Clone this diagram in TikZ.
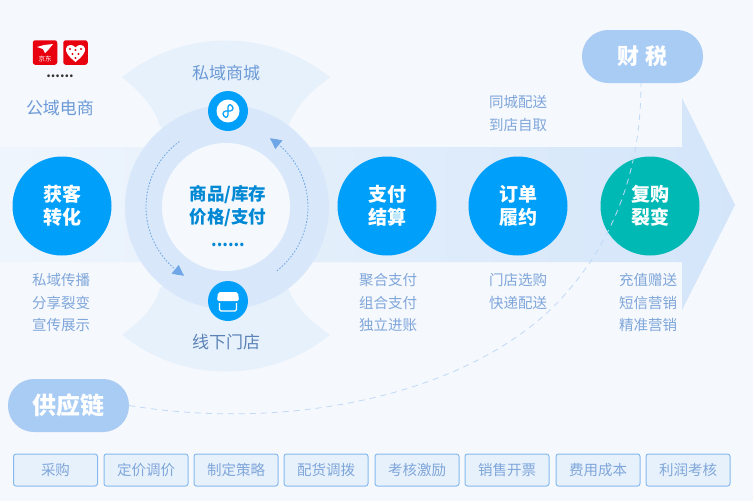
\documentclass[tikz,border=0pt]{standalone}
\usepackage{fontspec}
\setmainfont{Noto Sans CJK SC}
\usetikzlibrary{arrows.meta,bending}
\definecolor{pagebg}{HTML}{F5F8FD}
\definecolor{wedgebg}{HTML}{E7F1FC}
\definecolor{ringbg}{HTML}{D8E8FA}
\definecolor{bluedot}{HTML}{00A0FA}
\definecolor{tealdot}{HTML}{00B9B5}
\definecolor{pillbg}{HTML}{A9CCF5}
\definecolor{labeltxt}{HTML}{7FA6DA}
\definecolor{titletxt}{HTML}{6C9AD6}
\definecolor{tagline}{HTML}{86BAEE}
\definecolor{loopline}{HTML}{6EA6E6}
\definecolor{logored}{HTML}{E8000F}
\tikzset{
	stage/.style={circle,minimum size=99pt,inner sep=0pt,fill=bluedot,text=white,font=\bfseries\fontsize{19}{23}\selectfont,align=center},
	pill/.style={rounded corners=26pt,minimum width=121pt,minimum height=53pt,inner sep=0pt,fill=pillbg,text=white,font=\bfseries\fontsize{22}{26}\selectfont},
	note/.style={text=labeltxt,inner sep=0pt,font=\fontsize{14.5}{16}\selectfont},
	title/.style={text=titletxt,inner sep=0pt,font=\fontsize{17}{18}\selectfont},
	tag/.style={draw=tagline,fill=wedgebg,rounded corners=2.5pt,line width=1pt,minimum width=84pt,minimum height=32pt,inner sep=0pt,text=labeltxt,font=\fontsize{14.5}{16}\selectfont},
	icon/.style={circle,minimum size=40pt,inner sep=0pt,fill=bluedot},
	logo/.style={rounded corners=2.5pt,minimum size=24.5pt,inner sep=0pt,fill=logored},
	loopline/.style={draw=loopline,dash pattern=on 1.6pt off 1.6pt,line width=0.8pt,-{Triangle[length=11pt,width=11pt,bend]}},
	link/.style={draw=pillbg!70!pagebg,dash pattern=on 6pt off 5pt,line width=0.8pt}
}
\begin{document}
\begin{tikzpicture}[x=1pt,y=-1pt]
\fill[pagebg] (0,0) rectangle (753,501);
% wedges, arrow and ring
\fill[wedgebg] (226,206)+(231:165.5) arc[start angle=231,end angle=309,radius=165.5]
	.. controls (305,95) and (295,110) .. (288,126) -- (226,170) -- (160,126)
	.. controls (155,110) and (145,95) .. cycle;
\fill[wedgebg] (226,206)+(129:165.5) arc[start angle=129,end angle=51,radius=165.5]
	.. controls (305,318) and (295,305) .. (288,288) -- (226,250) -- (160,288)
	.. controls (155,305) and (145,318) .. cycle;
\shade[left color=pagebg!60!wedgebg,right color=ringbg!90!pillbg] (0,147) -- (682,147) -- (682,98) -- (735,205) -- (682,310) -- (682,262) -- (0,262) -- cycle;
\fill[ringbg] (227,207) circle (102);
\fill[pagebg] (226,207) circle (64);
\draw[loopline] (227,207)+(52:81) arc[start angle=52,end angle=-58,radius=81];
\draw[loopline] (227,207)+(234:81) arc[start angle=234,end angle=122,radius=81];
% stages
\node[stage] (huoke) at (62,206) {获客\\转化};
\node[stage] (zhifu) at (387,206) {支付\\结算};
\node[stage] (dingdan) at (518,206) {订单\\履约};
\node[stage,fill=tealdot] (fugou) at (650,206) {复购\\裂变};
\node[text=bluedot!85!black,inner sep=0pt,align=center,font=\bfseries\fontsize{17.5}{22.5}\selectfont] (center) at (228,206) {商品/库存\\价格/支付};
\node[text=bluedot!85!black,inner sep=0pt,font=\bfseries\fontsize{16}{16}\selectfont] (centerdots) at (228,245) {......};
% pills and link
\node[pill] (caishui) at (642.5,56.5) {财 税};
\node[pill,font=\bfseries\fontsize{24}{26}\selectfont] (gongying) at (68.5,405.5) {供应链};
\draw[link] (gongying.east) .. controls (290,432) and (470,395) .. (560,300) .. controls (620,235) and (641,160) .. (641,83);
% icons
\node[icon] (miniapp) at (228,111) {};
\fill[white] (miniapp) circle (11.5);
\draw[bluedot,line width=1.2pt,line cap=round] (224,116) .. controls (221,113) and (225,110) .. (228,111) .. controls (231,112) and (235,109) .. (232,106);
\draw[bluedot,line width=1.2pt,line cap=round] (224,116) .. controls (226,119) and (229,117) .. (228,111) .. controls (227,105) and (230,103) .. (232,106);
\node[icon] (store) at (228,301) {};
\fill[white,rounded corners=2pt] (218,292) -- (238,292) -- (239,301) -- (217,301) -- cycle;
\draw[white,line width=1.3pt,rounded corners=1.5pt] (219.5,303) -- (219.5,311) -- (236.5,311) -- (236.5,303);
% logos
\node[logo] (jd) at (45,52.5) {};
\node[logo] (pdd) at (75.5,52.5) {};
\node[text=white,inner sep=0pt,font=\fontsize{6.5}{7}\selectfont] (jdtext) at (45,59.5) {京东};
\fill[white] (37,47) -- (44,45) -- (53,44) -- (49,49) -- (45,53) -- (43,49) -- cycle;
\fill[white] (75.5,62) .. controls (68,56) and (65.5,52) .. (66,48.5) .. controls (67,44) and (73,44) .. (75.5,47.5) .. controls (78,44) and (84,44) .. (85,48.5) .. controls (85.5,52) and (83,56) .. (75.5,62) -- cycle;
\fill[logored] (70,49) circle (1.2) (75.5,50) circle (1.2) (81,49) circle (1.2) (72.5,54) circle (1.2) (78.5,54) circle (1.2) (75.5,58) circle (1.2);
\node[text=black!80,inner sep=0pt,font=\bfseries\fontsize{13}{13}\selectfont] (logodots) at (60,76) {......};
% labels
\node[title] (gongyu) at (60,108) {公域电商};
\node[title] (siyu) at (226,73) {私域商城};
\node[title,text=titletxt!85!black] (xianxia) at (226,342) {线下门店};
\node[note] (n1) at (61,280) {私域传播};
\node[note] (n2) at (61,303) {分享裂变};
\node[note] (n3) at (61,325) {宣传展示};
\node[note] (n4) at (388,280) {聚合支付};
\node[note] (n5) at (388,303) {组合支付};
\node[note] (n6) at (388,325) {独立进账};
\node[note] (n7) at (518,102) {同城配送};
\node[note] (n8) at (518,125) {到店自取};
\node[note] (n9) at (518,280) {门店选购};
\node[note] (n10) at (518,303) {快递配送};
\node[note] (n11) at (648,280) {充值赠送};
\node[note] (n12) at (648,303) {短信营销};
\node[note] (n13) at (648,325) {精准营销};
% bottom row
\node[tag] (t1) at (55.5,470) {采购};
\node[tag] (t2) at (146,470) {定价调价};
\node[tag] (t3) at (236,470) {制定策略};
\node[tag] (t4) at (326,470) {配货调拨};
\node[tag] (t5) at (417,470) {考核激励};
\node[tag] (t6) at (507,470) {销售开票};
\node[tag] (t7) at (598,470) {费用成本};
\node[tag] (t8) at (688,470) {利润考核};
\end{tikzpicture}
\end{document}
